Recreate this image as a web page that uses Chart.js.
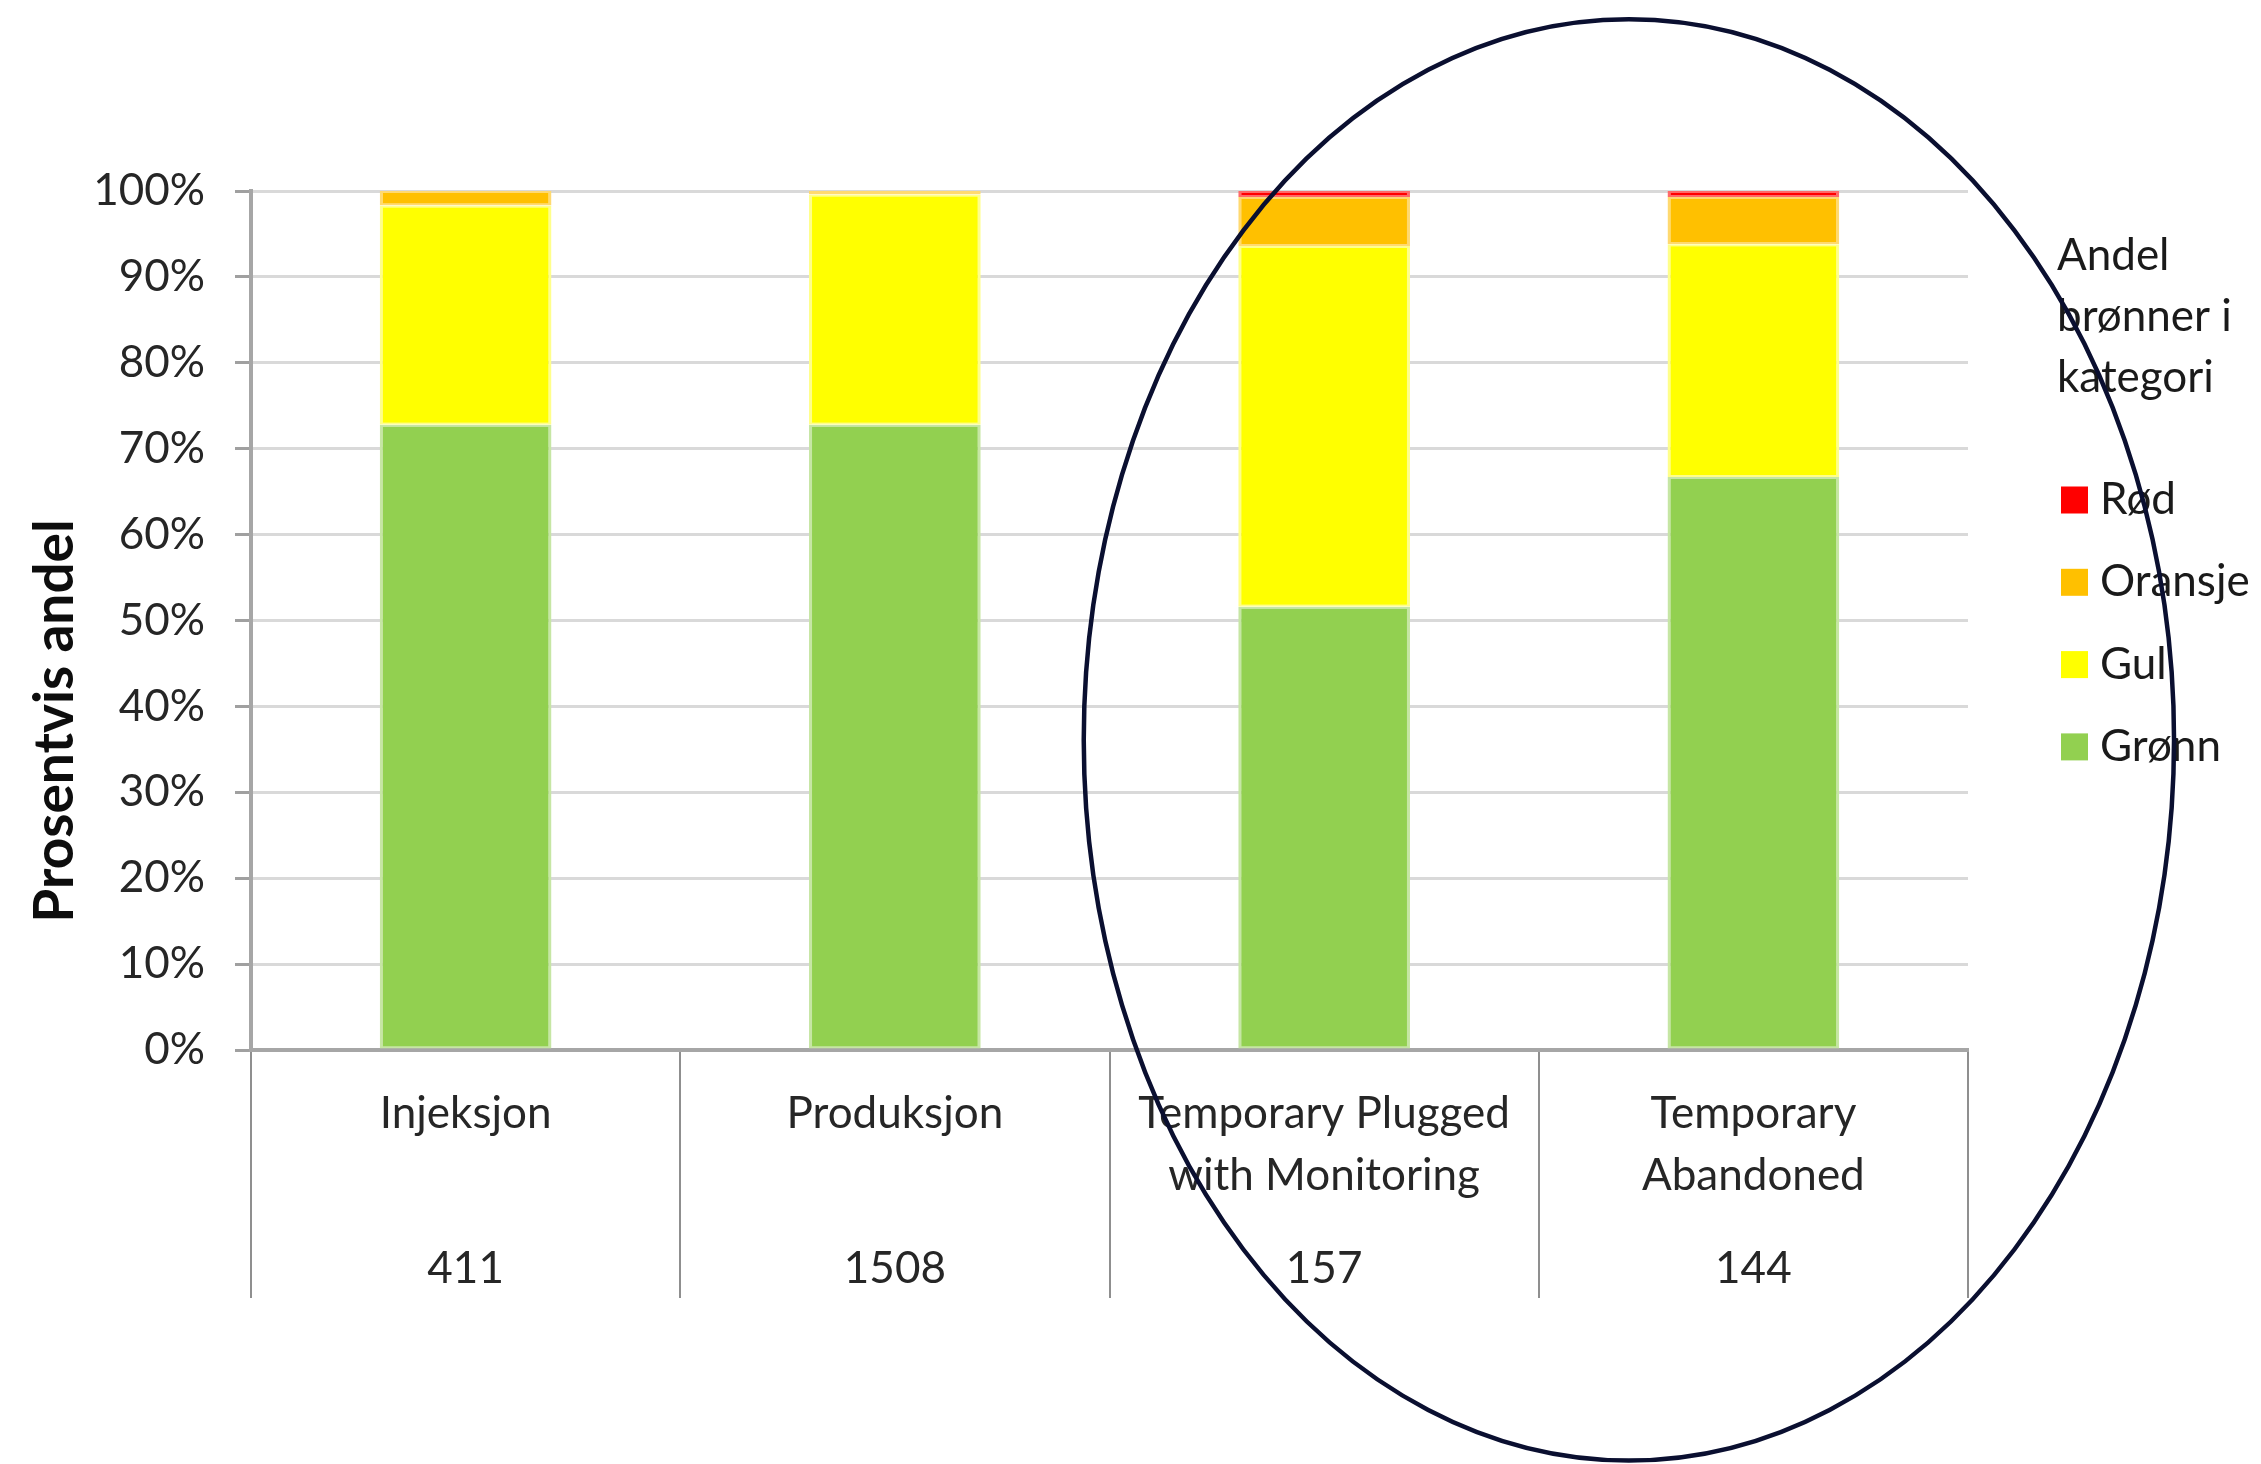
<!DOCTYPE html>
<html>
<head>
<meta charset="utf-8">
<script src="https://cdn.jsdelivr.net/npm/chart.js@4/dist/chart.umd.min.js"></script>
<style>
  html, body { margin: 0; padding: 0; background: #ffffff; overflow: hidden; }
  #wrap { width: 2261px; height: 1464px; }
</style>
</head>
<body>
<div id="wrap"><canvas id="chart" width="2261" height="1464"></canvas></div>
<script>
// Well categories (name lines) and number of wells in each
const categories = [["Injeksjon"], ["Produksjon"], ["Temporary Plugged", "with Monitoring"], ["Temporary", "Abandoned"]];
const wellCounts = [411, 1508, 157, 144];

// Share of wells per colour class, percent
const greenShare  = [72.8, 72.8, 51.6, 66.7];
const yellowShare = [25.5, 26.8, 42.0, 27.1];
const orangeShare = [1.7, 0.4, 5.7, 5.5];
const redShare    = [0, 0, 0.7, 0.7];

const seriesNames = ["Grønn", "Gul", "Oransje", "Rød"];
const yTickValues = [0, 10, 20, 30, 40, 50, 60, 70, 80, 90, 100];
const yTickLabels = ["0%", "10%", "20%", "30%", "40%", "50%", "60%", "70%", "80%", "90%", "100%"];
const yTitle = "Prosentvis andel";
const legendTitle = ["Andel", "brønner i", "kategori"];

const FONT = "Lato, 'Open Sans', 'DejaVu Sans', sans-serif";
const fills = ["#92d050", "#ffff00", "#ffc000", "#ff0000"];
const edges = ["#c6e6a4", "#ffff8a", "#ffd970", "#ff6a6a"];

// Category label lines: name line 1, name line 2, then the well count further down
const xLabels = categories.map((c, i) => [c[0], "", c[1] || "", "", "", String(wellCounts[i])]);

const series = [greenShare, yellowShare, orangeShare, redShare];
const datasets = series.map((vals, i) => ({
  label: seriesNames[i],
  data: vals,
  backgroundColor: fills[i],
  borderColor: edges[i],
  borderWidth: (ctx) => (ctx.raw ? { left: 3, right: 3, top: 2, bottom: 2 } : 0),
  borderSkipped: false,
  barPercentage: 0.5,
  categoryPercentage: 0.8
}));

// Rotated y-axis title, placed a little below the middle of the plot
const yTitlePlugin = {
  id: "yTitle",
  afterDraw(chart) {
    const { ctx, chartArea } = chart;
    const cy = chartArea.top + 530;
    ctx.save();
    ctx.translate(55, cy);
    ctx.rotate(-Math.PI / 2);
    ctx.font = "bold 55px " + FONT;
    ctx.fillStyle = "#0d0d0d";
    ctx.textAlign = "center";
    ctx.textBaseline = "middle";
    ctx.fillText(yTitle, 0, 0);
    ctx.restore();
  }
};

// Legend: wrapped title, then the series from top (Rød) to bottom (Grønn)
const legendPlugin = {
  id: "sideLegend",
  afterDraw(chart) {
    const { ctx, chartArea } = chart;
    const left = chartArea.right + 89;
    ctx.save();
    ctx.font = "44px " + FONT;
    ctx.fillStyle = "#1a1a1a";
    ctx.textAlign = "left";
    ctx.textBaseline = "middle";
    legendTitle.forEach((line, i) => ctx.fillText(line, left, chartArea.top + 65 + i * 61));
    const items = chart.data.datasets.slice().reverse();
    items.forEach((ds, i) => {
      const cy = chartArea.top + 309 + i * 82.3;
      ctx.fillStyle = ds.backgroundColor;
      ctx.fillRect(left + 4, cy - 13.5, 27, 27);
      ctx.fillStyle = "#1a1a1a";
      ctx.fillText(ds.label, left + 43, cy);
    });
    ctx.restore();
  }
};

// Hand-drawn style highlight ellipse around the two temporary categories
const ellipseBox = { xFrom: 1.44, xTo: 3.98, yFrom: -47.8, yTo: 120 };
const ellipsePlugin = {
  id: "highlightEllipse",
  afterDraw(chart) {
    const { ctx } = chart;
    const xs = chart.scales.x, ys = chart.scales.y;
    const x1 = xs.getPixelForValue(ellipseBox.xFrom), x2 = xs.getPixelForValue(ellipseBox.xTo);
    const y1 = ys.getPixelForValue(ellipseBox.yTo), y2 = ys.getPixelForValue(ellipseBox.yFrom);
    ctx.save();
    ctx.beginPath();
    ctx.ellipse((x1 + x2) / 2, (y1 + y2) / 2, (x2 - x1) / 2, (y2 - y1) / 2, 0, 0, Math.PI * 2);
    ctx.strokeStyle = "#0a0f30";
    ctx.lineWidth = 4.5;
    ctx.stroke();
    ctx.restore();
  }
};

new Chart(document.getElementById("chart"), {
  type: "bar",
  data: { labels: xLabels, datasets },
  plugins: [yTitlePlugin, legendPlugin, ellipsePlugin],
  options: {
    responsive: false,
    animation: false,
    devicePixelRatio: 1,
    layout: { padding: { top: 191, right: 293, bottom: 0, left: 0 } },
    plugins: { legend: { display: false }, tooltip: { enabled: false }, title: { display: false } },
    scales: {
      x: {
        stacked: true,
        grid: { offset: true, drawOnChartArea: false, drawTicks: true, tickLength: 248, color: "#8f8f8f", lineWidth: 2 },
        border: { color: "#a6a6a6", width: 4 },
        ticks: {
          autoSkip: false, maxRotation: 0, minRotation: 0,
          padding: -200,
          color: "#262626",
          font: { family: FONT, size: 44, lineHeight: 31 / 44 }
        },
        afterFit: (s) => { s.height = 414; }
      },
      y: {
        stacked: true,
        min: 0, max: 100,
        afterBuildTicks: (s) => { s.ticks = yTickValues.map((v) => ({ value: v })); },
        ticks: {
          callback: (v, i) => yTickLabels[i],
          padding: 30,
          color: "#262626",
          font: { family: FONT, size: 44 }
        },
        grid: { color: "#d9d9d9", lineWidth: 3, tickLength: 16, tickColor: "#a0a0a0" },
        border: { color: "#a6a6a6", width: 4 },
        afterFit: (s) => { s.width = 251; }
      }
    }
  }
});
</script>
</body>
</html>
